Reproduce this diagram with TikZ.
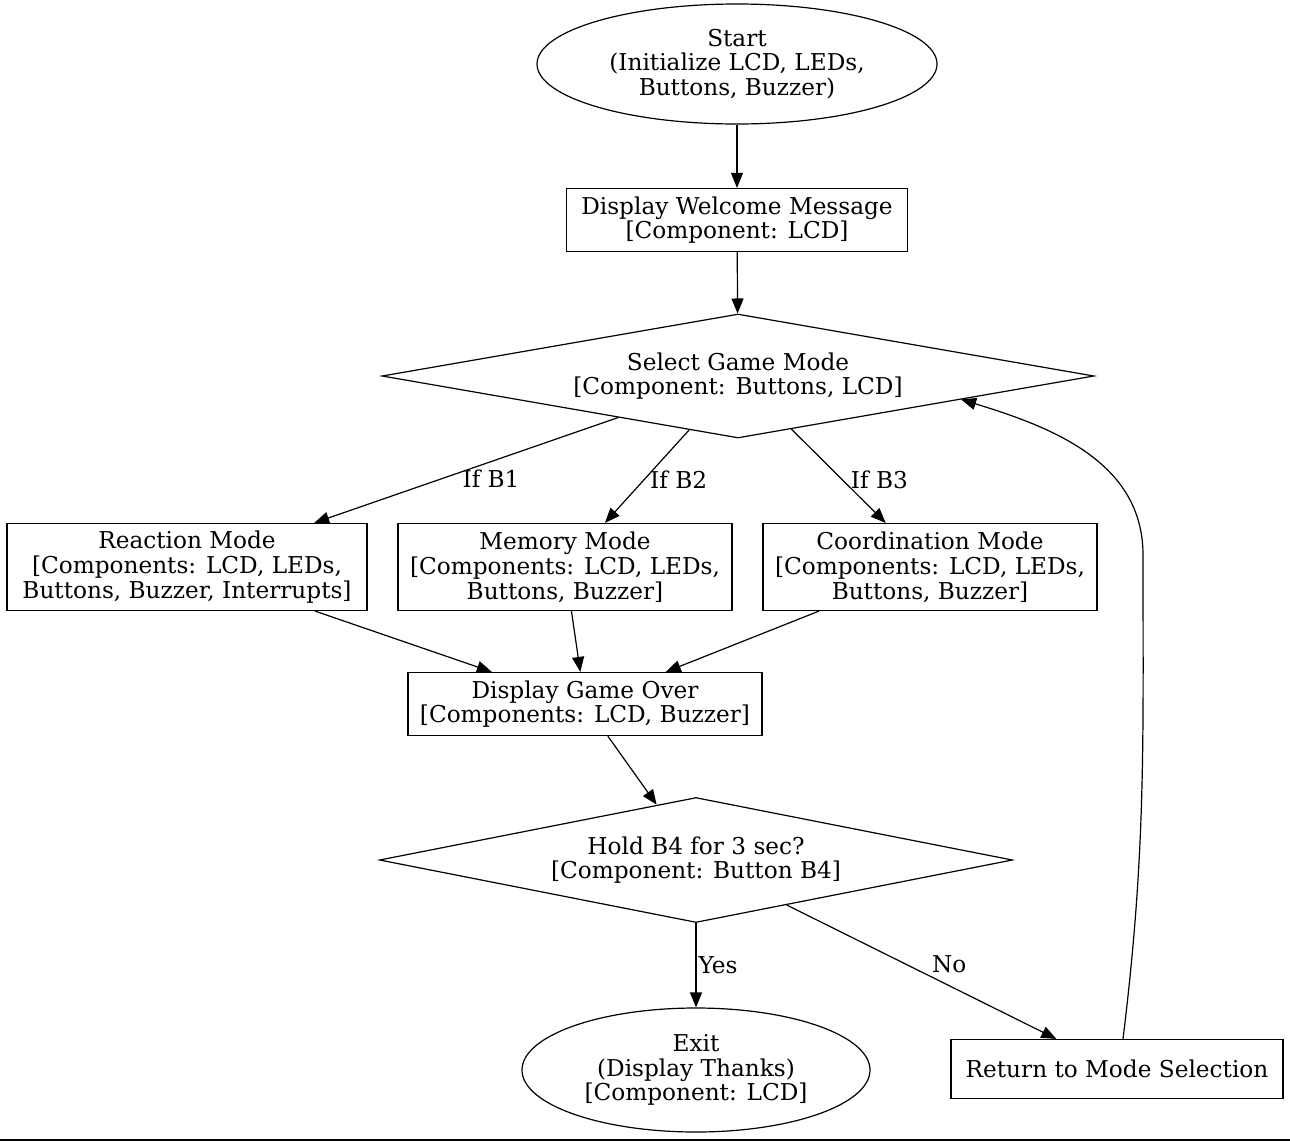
\documentclass[tikz,border=0pt]{standalone}
\usepackage{fontspec}
\setmainfont{DejaVu Serif}
\usepackage{tikz}
\usetikzlibrary{positioning,calc,arrows.meta,shapes.geometric}

\begin{document}
\begin{tikzpicture}[x=0.5pt,y=-0.5pt,font=\fontsize{11.6}{12.4}\selectfont,
  bx/.style={draw,line width=0.6pt,rectangle,align=center,inner sep=2pt},
  oval/.style={draw,line width=0.6pt,ellipse,align=center,inner sep=1pt},
  dia/.style={draw,line width=0.6pt,diamond,align=center,inner sep=0pt,shape aspect=5.7},
  arr/.style={-{Triangle[length=7.5pt,width=6pt]},line width=0.6pt},
  lbl/.style={anchor=west,inner sep=1pt}]
  \useasboundingbox (0,0) rectangle (1290,1141);
  \node[oval,minimum width=200pt,minimum height=60pt] (start) at (737,64) {Start\\(Initialize LCD, LEDs,\\Buttons, Buzzer)};
  \node[bx,minimum width=170.5pt,minimum height=31.5pt] (welcome) at (737,220) {Display Welcome Message\\{}[Component: LCD]};
  \node[dia,minimum width=356pt,minimum height=62pt] (sel) at (738,376) {Select Game Mode\\{}[Component: Buttons, LCD]};
  \node[bx,minimum width=180pt,minimum height=43.5pt] (react) at (187,567) {Reaction Mode\\{}[Components: LCD, LEDs,\\Buttons, Buzzer, Interrupts]};
  \node[bx,minimum width=167pt,minimum height=43.5pt] (mem) at (565,567) {Memory Mode\\{}[Components: LCD, LEDs,\\Buttons, Buzzer]};
  \node[bx,minimum width=167pt,minimum height=43.5pt] (coord) at (930,567) {Coordination Mode\\{}[Components: LCD, LEDs,\\Buttons, Buzzer]};
  \node[bx,minimum width=177pt,minimum height=31.5pt] (over) at (585,704) {Display Game Over\\{}[Components: LCD, Buzzer]};
  \node[dia,minimum width=316.5pt,minimum height=62.5pt] (hold) at (696,860) {Hold B4 for 3 sec?\\{}[Component: Button B4]};
  \node[oval,minimum width=174pt,minimum height=62pt] (exit) at (696,1070) {Exit\\(Display Thanks)\\{}[Component: LCD]};
  \node[bx,minimum width=166pt,minimum height=29.5pt] (ret) at (1117,1069) {Return to Mode Selection};
  \coordinate (loop) at (1143,555);
  % edges
  \draw[arr] (start) -- (welcome);
  \draw[arr] (welcome) -- (sel);
  \draw[arr] (sel) -- node[lbl,pos=0.54,xshift=3pt,yshift=-2pt]{If B1} (react);
  \draw[arr] (sel) -- node[lbl,pos=0.54,xshift=2pt]{If B2} (mem);
  \draw[arr] (sel) -- node[lbl,pos=0.54,xshift=3pt]{If B3} (coord);
  \draw[arr] (hold) -- node[lbl,pos=0.5,xshift=4pt,yshift=4pt]{No} (ret);
  \draw[arr] (react) -- (over);
  \draw[arr] (mem) -- (over);
  \draw[arr] (coord) -- (over);
  \draw[arr] (over) -- (hold);
  \draw[arr] (hold) -- node[lbl,pos=0.5]{Yes} (exit);
  \draw[arr] ([xshift=3pt]ret.north) to[out=83,in=-90] (loop) to[out=90,in=-17] (sel.-6.3);
  \draw[line width=1.2pt] (0,1140) -- (1290,1140);
\end{tikzpicture}
\end{document}
